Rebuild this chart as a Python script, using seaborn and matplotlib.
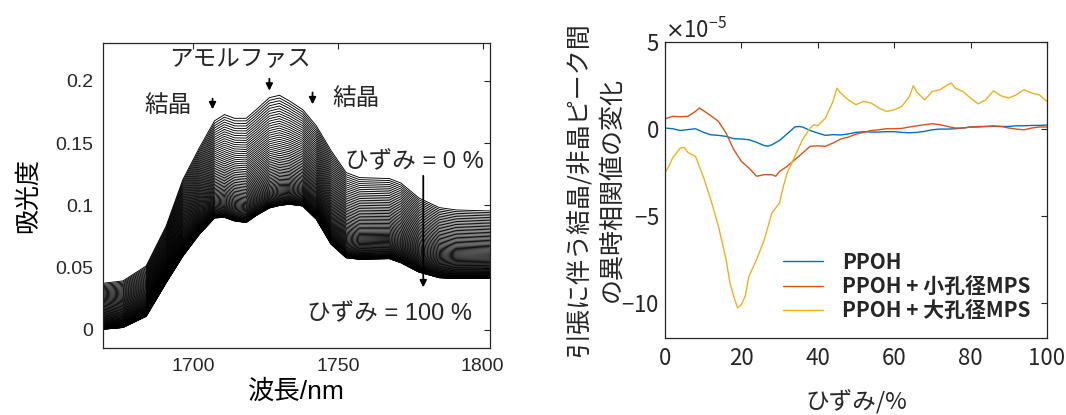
import numpy as np
import pandas as pd
import matplotlib
matplotlib.use("Agg")
import matplotlib.pyplot as plt
import seaborn as sns

# ---- left: NIR spectra during stretching ----
wavelength = [1669, 1675.9, 1683.9, 1690.8, 1696.6, 1702.3, 1707.5, 1710.9, 1714.4, 1718.4, 1721.9, 1726.4,
              1729.9, 1733.3, 1737.9, 1742.6, 1747.7, 1752.9, 1757.5, 1767.8, 1771.8, 1778, 1785, 1790.8, 1802.5]
absorb_strain0 = [0.0375, 0.0394, 0.0514, 0.0835, 0.121, 0.1465, 0.168, 0.173, 0.170, 0.170, 0.177, 0.1866,
                  0.1885, 0.184, 0.177, 0.164, 0.144, 0.1264, 0.1224, 0.1216, 0.118, 0.106, 0.0983, 0.0964, 0.0956]
absorb_strain100 = [0.0006, 0.002, 0.011, 0.038, 0.0595, 0.077, 0.090, 0.0905, 0.0876, 0.0863, 0.092, 0.098,
                    0.100, 0.101, 0.0996, 0.089, 0.069, 0.058, 0.0568, 0.0573, 0.054, 0.0465, 0.042, 0.0413, 0.0413]
strain_levels = np.arange(0, 101, 1.25)

# ---- right: asynchronous correlation vs strain ----
x_ppoh = [0, 2, 4, 6, 8, 10, 12, 14, 16, 18, 20, 22, 24, 26, 27, 28, 30, 32, 34, 35, 36, 38, 40, 42, 44, 46,
          48, 50, 52, 54, 56, 58, 60, 62, 64, 66, 68, 70, 72, 74, 76, 78, 80, 82, 84, 86, 88, 90, 92, 94, 96, 98, 100]
y_ppoh = [0.04, 0.0, -0.1, -0.05, 0.0, -0.2, -0.35, -0.38, -0.44, -0.57, -0.59, -0.63, -0.78, -0.97, -1.0, -0.92,
          -0.67, -0.29, 0.1, 0.13, 0.1, -0.1, -0.25, -0.38, -0.34, -0.36, -0.3, -0.21, -0.17, -0.19, -0.19, -0.17,
          -0.17, -0.21, -0.23, -0.21, -0.15, -0.06, -0.02, -0.02, 0.0, 0.04, 0.1, 0.1, 0.13, 0.13, 0.13, 0.13,
          0.17, 0.17, 0.19, 0.19, 0.21]
x_small = [0, 2, 4, 6, 8, 9, 10, 12, 14, 16, 18, 20, 22, 24, 26, 28, 29, 30, 32, 34, 36, 38, 40, 42, 44, 46,
           48, 50, 52, 54, 56, 58, 60, 62, 64, 66, 68, 70, 72, 74, 76, 78, 80, 82, 84, 86, 88, 90, 92, 94, 96, 98, 100]
y_small = [0.57, 0.71, 0.69, 0.71, 1.0, 1.19, 1.05, 0.75, 0.42, -0.25, -1.2, -1.87, -2.26, -2.73, -2.64, -2.64,
           -2.73, -2.45, -2.16, -1.78, -1.4, -1.01, -0.98, -1.01, -0.82, -0.59, -0.48, -0.31, -0.21, -0.1, -0.06,
           0.0, 0.0, 0.02, 0.1, 0.17, 0.23, 0.29, 0.23, 0.13, 0.04, 0.04, 0.1, 0.13, 0.13, 0.17, 0.13, 0.04,
           -0.02, -0.06, 0.04, 0.1, 0.1]
x_large = [0, 1, 2, 4, 5, 6, 8, 10, 12, 14, 16, 17, 18, 19, 20, 21, 22, 24, 26, 28, 30, 31, 32, 34, 36, 38, 39,
           40, 42, 43, 44, 45, 46, 48, 50, 52, 54, 56, 58, 60, 62, 64, 65, 66, 68, 70, 72, 74, 75, 76, 78, 80,
           82, 84, 86, 88, 90, 92, 94, 96, 98, 100]
y_large = [-2.54, -2.16, -1.68, -1.11, -1.07, -1.36, -1.59, -2.73, -4.07, -5.6, -7.51, -8.85, -9.62, -10.29,
           -10.1, -9.62, -8.47, -7.51, -6.37, -4.84, -4.26, -3.31, -2.54, -1.59, -0.63, 0.04, 0.23, 0.17, 0.61,
           1.09, 1.57, 2.33, 2.05, 1.66, 1.38, 1.57, 1.47, 1.19, 0.99, 1.09, 1.28, 1.85, 2.47, 2.09, 1.66, 2.14,
           2.24, 2.52, 2.62, 2.33, 2.14, 1.76, 1.43, 1.66, 2.18, 1.89, 1.76, 1.95, 2.24, 2.05, 1.95, 1.57]
series_names = ["PPOH", "PPOH + 小孔径MPS", "PPOH + 大孔径MPS"]
series_colors = ["#0072BD", "#D95319", "#EDB120"]

sns.set_theme(style="white")
plt.rcParams['font.family'] = ['Liberation Sans', 'Noto Sans CJK JP']
plt.rcParams['axes.unicode_minus'] = False
jp = ['Noto Sans CJK JP', 'DejaVu Sans']
mix = ['Liberation Sans', 'Noto Sans CJK JP']
ink = "#262626"

fig = plt.figure(figsize=(10.66, 4.15), dpi=100)
ax1 = fig.add_axes([0.0966, 0.1614, 0.363, 0.735])
ax2 = fig.add_axes([0.6238, 0.1863, 0.3583, 0.7133])

# build spectra table (one curve per strain step)
top = np.array(absorb_strain0)
bot = np.array(absorb_strain100)
rows = []
for s in strain_levels:
    w = (1 - s / 100.0) ** 2.0
    spec = bot + (top - bot) * w
    for wl, a in zip(wavelength, spec):
        rows.append({"wl": wl, "abs": a, "strain": s})
spec_df = pd.DataFrame(rows)
sns.lineplot(data=spec_df, x="wl", y="abs", units="strain", estimator=None,
             color="black", lw=0.65, sort=False, ax=ax1, legend=False)

ax1.set_xlim(1669, 1802.5)
ax1.set_ylim(-0.0145, 0.2305)
ax1.set_xticks([1700, 1750, 1800])
ax1.set_yticks([0, 0.05, 0.1, 0.15, 0.2])
ax1.set_yticklabels(["0", "0.05", "0.1", "0.15", "0.2"])
ax1.set_xlabel("波長/nm", family=mix, fontsize=19, color="black", labelpad=3)
ax1.set_ylabel("吸光度", family=jp, fontsize=18, color="black", labelpad=10)

arr = dict(arrowstyle="-|>", color="black", lw=1.3, mutation_scale=10)
ax1.text(1716.1, 0.217, "アモルファス", family=jp, fontsize=17, ha="center", va="center")
ax1.annotate("", xy=(1726.4, 0.190), xytext=(1726.4, 0.204), arrowprops=arr)
ax1.text(1691.3, 0.180, "結晶", family=jp, fontsize=17, ha="center", va="center")
ax1.annotate("", xy=(1706.8, 0.175), xytext=(1706.8, 0.188), arrowprops=arr)
ax1.text(1756.4, 0.186, "結晶", family=jp, fontsize=17, ha="center", va="center")
ax1.annotate("", xy=(1741.3, 0.179), xytext=(1741.3, 0.193), arrowprops=arr)
ax1.text(1776.4, 0.1347, "ひずみ = 0 %", family=mix, fontsize=17, ha="center", va="center")
ax1.annotate("", xy=(1779.5, 0.032), xytext=(1779.5, 0.126), arrowprops=arr)
ax1.text(1767.8, 0.0126, "ひずみ = 100 %", family=mix, fontsize=17, ha="center", va="center")

# right panel
corr_df = pd.concat([
    pd.DataFrame({"strain": x_ppoh, "val": np.array(y_ppoh) * 1e-5, "sample": series_names[0]}),
    pd.DataFrame({"strain": x_small, "val": np.array(y_small) * 1e-5, "sample": series_names[1]}),
    pd.DataFrame({"strain": x_large, "val": np.array(y_large) * 1e-5, "sample": series_names[2]}),
])
sns.lineplot(data=corr_df, x="strain", y="val", hue="sample", hue_order=series_names,
             palette=series_colors, lw=1.0, estimator=None, ax=ax2)
ax2.set_xlim(0, 100)
ax2.set_ylim(-12e-5, 5e-5)
ax2.set_xticks([0, 20, 40, 60, 80, 100])
ax2.set_yticks([-10e-5, -5e-5, 0, 5e-5])
ax2.ticklabel_format(axis="y", style="sci", scilimits=(-5, -5), useMathText=True)
off = ax2.yaxis.get_offset_text()
off.set_fontsize(16)
off.set_color(ink)
off.set_family(jp)
ax2.set_xlabel("ひずみ/%", family=jp, fontsize=17, color=ink, labelpad=14)
ax2.set_ylabel("引張に伴う結晶/非晶ピーク間\nの異時相関値の変化", family=jp, fontsize=18,
               color=ink, linespacing=1.35, labelpad=-2)
leg = ax2.legend(loc="lower right", frameon=False, prop={"family": jp, "size": 15, "weight": "bold"},
                 handlelength=1.9, handletextpad=0.9, labelspacing=0.15, borderaxespad=0.4)

for ax, fs in ((ax1, 14), (ax2, 16)):
    ax.tick_params(direction="in", top=True, right=True, length=4, width=0.8,
                   colors=ink, labelsize=fs, pad=7)
    for sp in ax.spines.values():
        sp.set_color(ink)
        sp.set_linewidth(0.9)
ax2.tick_params(axis="y", pad=4)
for lab in ax2.get_xticklabels() + ax2.get_yticklabels():
    lab.set_family(jp)

fig.savefig("out.png", dpi=100)
